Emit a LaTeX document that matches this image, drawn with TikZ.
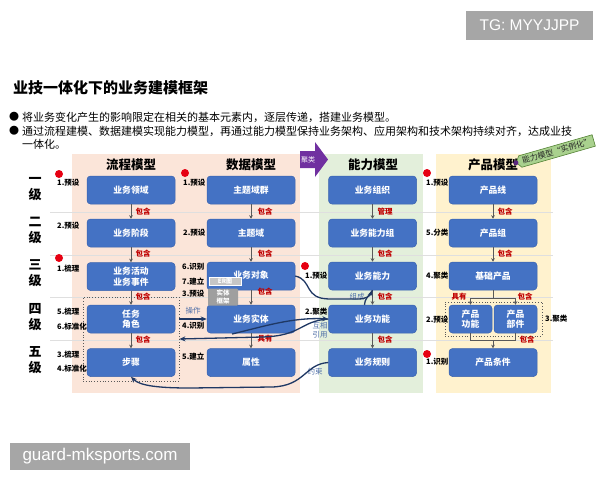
\documentclass[tikz,border=0pt]{standalone}
\usepackage{fontspec}
\setmainfont{Noto Sans CJK SC}
\newfontfamily\latf{Liberation Sans}
\usetikzlibrary{arrows.meta,shapes.symbols,calc}
\definecolor{boxblue}{HTML}{4472C4}
\definecolor{boxedge}{HTML}{3A63AE}
\definecolor{pinkbg}{HTML}{FBE5D9}
\definecolor{greenbg}{HTML}{E3EFDB}
\definecolor{yellowbg}{HTML}{FFF2CE}
\definecolor{relred}{HTML}{C00000}
\definecolor{navy}{HTML}{1F3864}
\definecolor{notec}{HTML}{4F6FA8}
\definecolor{dotred}{HTML}{E60012}
\definecolor{purp}{HTML}{7030A0}
\definecolor{tagg}{HTML}{A9D18E}
\definecolor{tagedge}{HTML}{548235}
\definecolor{wm}{HTML}{A6A6A6}
\definecolor{arrg}{HTML}{595959}
\tikzset{
  bx/.style={rounded corners=3.5pt, fill=boxblue, draw=boxedge, line width=0.5pt, text=white,
    minimum width=88pt, minimum height=28pt, inner sep=1pt, align=center,
    font=\fontsize{8.8}{10.5}\selectfont\bfseries},
  smallbx/.style={bx, minimum width=43pt},
  lbl/.style={anchor=west, inner sep=0pt, font=\fontsize{7.5}{8}\selectfont\bfseries, text=black},
  rel/.style={inner sep=0pt, font=\fontsize{7.5}{8}\selectfont\bfseries, text=relred},
  note/.style={inner sep=0pt, font=\fontsize{7.5}{8.5}\selectfont, text=notec, align=center},
  lvl/.style={inner sep=0pt, align=center, font=\fontsize{13}{16}\selectfont\bfseries},
  coltitle/.style={inner sep=0pt, font=\fontsize{12.5}{14}\selectfont\bfseries},
  vline/.style={draw=arrg, line width=0.7pt, -{Stealth[length=3.5pt,width=3.5pt]}},
  vplain/.style={draw=arrg, line width=0.7pt},
  curve/.style={draw=navy, line width=1.3pt, -{Stealth[length=6pt,width=5pt]}},
  curveplain/.style={draw=navy, line width=1.3pt},
  reddot/.style={fill=dotred},
  dotbox/.style={draw=arrg, dotted, line width=0.8pt, inner sep=0pt},
}
\begin{document}
\begin{tikzpicture}[x=1pt,y=-1pt]
\useasboundingbox (0,0) rectangle (600,480);
\fill[white] (0,0) rectangle (600,480);

% watermarks
\node[fill=wm, text=white, minimum width=127pt, minimum height=29pt, inner sep=0pt,
  font=\latf\fontsize{15.5}{17}\selectfont] (wm1) at (529.5,25.5) {TG: MYYJJPP};
\node[fill=wm, text=white, minimum width=180pt, minimum height=27pt, inner sep=0pt,
  font=\latf\fontsize{17}{19}\selectfont] (wm2) at (100,456.5) {guard-mksports.com};

% title and bullets
\node[anchor=west, inner sep=0pt, font=\fontsize{15}{17}\selectfont\bfseries] (title) at (13,88) {业技一体化下的业务建模框架};
\node[anchor=west, inner sep=0pt, font=\fontsize{10}{12}\selectfont] (b1) at (9,117) {●};
\node[anchor=west, inner sep=0pt, font=\fontsize{11}{13}\selectfont] (t1) at (22,117) {将业务变化产生的影响限定在相关的基本元素内，逐层传递，搭建业务模型。};
\node[anchor=west, inner sep=0pt, font=\fontsize{10}{12}\selectfont] (b2) at (9,131) {●};
\node[anchor=west, inner sep=0pt, font=\fontsize{11}{13}\selectfont] (t2) at (22,131) {通过流程建模、数据建模实现能力模型，再通过能力模型保持业务架构、应用架构和技术架构持续对齐，达成业技};
\node[anchor=west, inner sep=0pt, font=\fontsize{11}{13}\selectfont] (t3) at (22,144) {一体化。};

% column backgrounds
\fill[pinkbg] (72,154) rectangle (300,393);
\fill[greenbg] (319,154) rectangle (423,393);
\fill[yellowbg] (436,154) rectangle (551,393);

% row separators
\foreach \yy in {212,255,297,340}{
  \draw[gray!25, line width=0.6pt] (50,\yy) -- (553,\yy);
}

% column titles
\node[coltitle] (h1) at (131,165) {流程模型};
\node[coltitle] (h2) at (251,165) {数据模型};
\node[coltitle] (h3) at (373,165) {能力模型};
\node[coltitle] (h4) at (493,165) {产品模型};

% level labels
\node[lvl] (L1) at (35,189) {一\\级};
\node[lvl] (L2) at (35,230) {二\\级};
\node[lvl] (L3) at (35,273) {三\\级};
\node[lvl] (L4) at (35,317) {四\\级};
\node[lvl] (L5) at (35,360) {五\\级};

% purple arrow
\fill[purp] (300,151) -- (315,151) -- (315,142) -- (328,159.5) -- (315,177) -- (315,168) -- (300,168) -- cycle;
\node[text=white, inner sep=0pt, font=\fontsize{7}{8}\selectfont] (jl) at (308,159.5) {聚类};

% green tag
\node[signal, signal to=west, signal pointer angle=110, fill=tagg, draw=tagedge, line width=0.6pt,
  rotate=16, inner sep=2.2pt, font=\fontsize{8}{9}\selectfont, text=black!85] (tag) at (557,151) {能力模型“实例化”};
\fill[purp!80!black] (tag.west) circle (2.5);

% dotted boxes
\node[dotbox, minimum width=96pt, minimum height=84pt] (pbox) at (131,339) {};
\node[dotbox, minimum width=97pt, minimum height=34pt] (rbox) at (493.5,319) {};

% process column
\node[bx] (p1) at (131,190) {业务领域};
\node[bx] (p2) at (131,233) {业务阶段};
\node[bx] (p3) at (131,276.5) {业务活动\\业务事件};
\node[bx] (p4) at (131,319) {任务\\角色};
\node[bx] (p5) at (131,362.5) {步骤};

% data column
\node[bx] (d1) at (251,190) {主题域群};
\node[bx] (d2) at (251,233) {主题域};
\node[bx] (d3) at (251,276) {\raisebox{3pt}{业务对象}};
\node[bx] (d4) at (251,319) {业务实体};
\node[bx] (d5) at (251,362.5) {属性};
\node[fill=gray!45, draw=white, line width=0.4pt, text=white, minimum width=32pt, minimum height=8pt, inner sep=0pt,
  font=\fontsize{6}{6}\selectfont\bfseries] (er) at (225,281) {ER图};
\node[fill=gray!75, rounded corners=1pt, text=white, minimum width=30pt, minimum height=17pt, inner sep=0pt, align=center,
  font=\fontsize{6.5}{7.5}\selectfont\bfseries] (stkj) at (223,297) {实体\\框架};

% capability column
\node[bx] (c1) at (372.5,190) {业务组织};
\node[bx] (c2) at (372.5,233) {业务能力组};
\node[bx] (c3) at (372.5,276) {业务能力};
\node[bx] (c4) at (372.5,319) {业务功能};
\node[bx] (c5) at (372.5,362.5) {业务规则};

% product column
\node[bx] (r1) at (493,190) {产品线};
\node[bx] (r2) at (493,233) {产品组};
\node[bx] (r3) at (493,276) {基础产品};
\node[smallbx] (r4a) at (470.5,319) {产品\\功能};
\node[smallbx] (r4b) at (515.5,319) {产品\\部件};
\node[bx] (r5) at (493,362.5) {产品条件};

% vertical arrows
\draw[vline] (p1) -- (p2);
\draw[vline] (p2) -- (p3);
\draw[vline] (p3) -- (p4);
\draw[vline] (p4) -- (p5);
\draw[vline] (d1) -- (d2);
\draw[vline] (d2) -- (d3);
\draw[vline] (d3) -- (d4);
\draw[vline] (d4) -- (d5);
\draw[vline] (c1) -- (c2);
\draw[vline] (c2) -- (c3);
\draw[vline] (c3) -- (c4);
\draw[vline] (c4) -- (c5);
\draw[vline] (r1) -- (r2);
\draw[vline] (r2) -- (r3);
\draw[vplain] (r3.south) -- ++(0,8) coordinate (rb);
\draw[vplain] (rb -| r4a) -- (rb -| r4b);
\draw[vline] (rb -| r4a) -- (r4a);
\draw[vline] (rb -| r4b) -- (r4b);
\coordinate (rj) at (493,340);
\draw[vplain] (r4a.south) -- (rj -| r4a) -- (rj -| r4b) -- (r4b.south);
\draw[vline] (rj) -- (r5);

% relation labels
\node[rel] (g1) at (143,212) {包含};
\node[rel] (g2) at (143,254) {包含};
\node[rel] (g3) at (143,297) {包含};
\node[rel] (g4) at (143,340) {包含};
\node[rel] (g5) at (265,212) {包含};
\node[rel] (g6) at (265,254) {包含};
\node[rel] (g7) at (265,292) {包含};
\node[rel] (g8) at (265,339) {具有};
\node[rel] (g9) at (385,212) {管理};
\node[rel] (g10) at (385,254) {包含};
\node[rel] (g11) at (385,297) {包含};
\node[rel] (g12) at (385,340) {包含};
\node[rel] (g13) at (505,212) {包含};
\node[rel] (g14) at (505,254) {包含};
\node[rel] (g15) at (459,297) {具有};
\node[rel] (g16) at (525,297) {包含};
\node[rel] (g17) at (527,340) {包含};

% step labels
\node[lbl] (s1) at (57,183) {1.预设};
\node[lbl] (s2) at (57,226) {2.预设};
\node[lbl] (s3) at (57,269) {1.梳理};
\node[lbl] (s4) at (57,312) {5.梳理};
\node[lbl] (s5) at (57,327) {6.标准化};
\node[lbl] (s6) at (57,355) {3.梳理};
\node[lbl] (s7) at (57,369) {4.标准化};
\node[lbl] (s8) at (183,183) {1.预设};
\node[lbl] (s9) at (183,233) {2.预设};
\node[lbl] (s10) at (182,267) {6.识别};
\node[lbl] (s11) at (182,282) {7.建立};
\node[lbl] (s12) at (182,294) {3.预设};
\node[lbl] (s13) at (182,326) {4.识别};
\node[lbl] (s14) at (182,357) {5.建立};
\node[lbl] (s15) at (305,276) {1.预设};
\node[lbl] (s16) at (305,312) {2.聚类};
\node[lbl] (s17) at (426,183) {1.预设};
\node[lbl] (s18) at (426,233) {5.分类};
\node[lbl] (s19) at (426,276) {4.聚类};
\node[lbl] (s20) at (426,320) {2.预设};
\node[lbl] (s21) at (426,362) {1.识别};
\node[lbl] (s22) at (545,319) {3.聚类};

% red dots
\fill[reddot] (59,174) circle (4);
\fill[reddot] (59,258) circle (4);
\fill[reddot] (185,173) circle (4);
\fill[reddot] (305,266) circle (4);
\fill[reddot] (427,173) circle (4);
\fill[reddot] (427,354) circle (4);

% notes
\node[note] (n1) at (193,311) {操作};
\node[note] (n2) at (320,330) {互相\\引用};
\node[note] (n3) at (315,372) {约束};
\node[note] (n4) at (357,297) {组成};

% navy connectors
\draw[curve] (d3.east) .. controls (313,280) and (303,299) .. (330,299) -- (358,299) .. controls (366,299) and (370,296) .. (c3.south);
\draw[curveplain] ($(c4.north)+(-8,0)$) .. controls ($(c4.north)+(-8,-6)$) and (369,296) .. (c3.south);
\draw[curve] (pbox.east |- d4.west) -- (d4.west);
\coordinate (ast) at (232,334);
\draw[curve] (ast) .. controls (262,327) and (292,317) .. (c4.west);
\draw[curve] (c4.west) .. controls (300,321) and (302,336) .. (262,337) -- (pbox.east);
\draw[curve] (c5.west) .. controls (305,364) and (305,386) .. (272,387) -- (190,388) .. controls (160,388) and (140,386) .. (p5.south);
\end{tikzpicture}
\end{document}
